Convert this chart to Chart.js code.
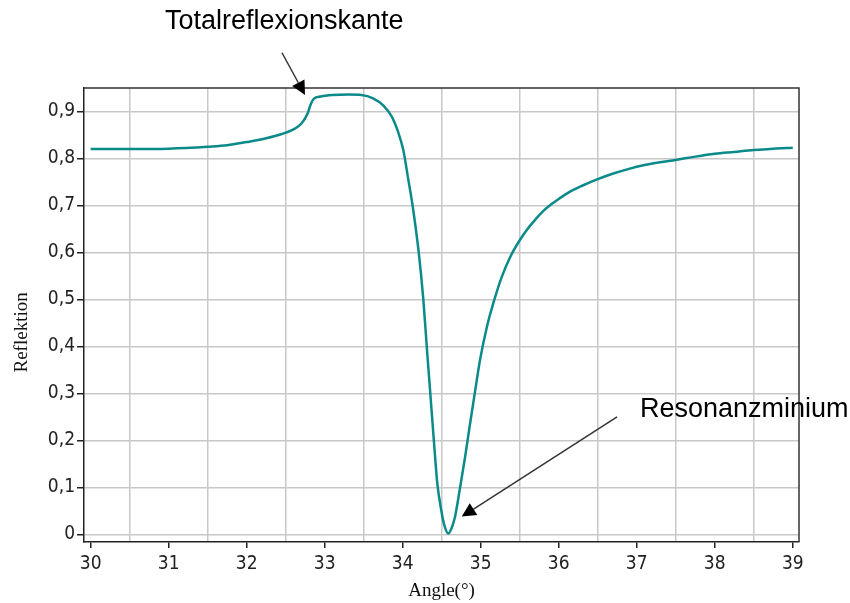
<!DOCTYPE html>
<html>
<head>
<meta charset="utf-8">
<style>
  html, body { margin: 0; padding: 0; background: #ffffff; }
  #wrap { width: 850px; height: 603px; position: relative; }
</style>
<script src="https://cdn.jsdelivr.net/npm/chart.js@4.4.1/dist/chart.umd.min.js"></script>
</head>
<body>
<div id="wrap"><canvas id="c" width="850" height="603"></canvas></div>
<script>
// SPR reflectivity curve: reflection vs. angle of incidence
const angles = [
  30.0, 30.5, 31.0, 31.5, 31.75, 32.0, 32.25, 32.45, 32.6, 32.7,
  32.78, 32.82, 32.86, 32.95, 33.1, 33.3, 33.47, 33.62, 33.75, 33.86,
  33.94, 34.008, 34.065, 34.126, 34.207, 34.265, 34.312, 34.354, 34.399, 34.444,
  34.494, 34.530, 34.585, 34.63, 34.67, 34.73, 34.80, 34.86, 34.93, 34.99,
  35.08, 35.16, 35.27, 35.38, 35.50, 35.6, 35.7, 35.8, 35.9, 36.0,
  36.14, 36.3, 36.5, 36.7, 36.9, 37.1, 37.3, 37.5, 37.75, 38.0,
  38.25, 38.5, 38.75, 39.0
];
const reflection = [
  0.820, 0.820, 0.821, 0.825, 0.828, 0.835, 0.843, 0.852, 0.862, 0.874,
  0.895, 0.915, 0.927, 0.932, 0.935, 0.936, 0.935, 0.928, 0.913, 0.889,
  0.857, 0.818, 0.762, 0.701, 0.598, 0.499, 0.392, 0.300, 0.201, 0.108,
  0.052, 0.022, 0.002, 0.015, 0.037, 0.094, 0.165, 0.232, 0.307, 0.370,
  0.442, 0.491, 0.548, 0.591, 0.626, 0.650, 0.670, 0.688, 0.702, 0.714,
  0.729, 0.742, 0.756, 0.768, 0.778, 0.786, 0.792, 0.797, 0.804, 0.810,
  0.814, 0.818, 0.821, 0.823
];

// Axis ticks: labelled integer angles, grid lines between them
const xTickValues = [30, 31, 32, 33, 34, 35, 36, 37, 38, 39];
const xGridValues = [30.5, 31.5, 32.5, 33.5, 34.5, 35.5, 36.5, 37.5, 38.5];
const yTickValues = [0, 0.1, 0.2, 0.3, 0.4, 0.5, 0.6, 0.7, 0.8, 0.9];
const yTickLabels = ['0', '0,1', '0,2', '0,3', '0,4', '0,5', '0,6', '0,7', '0,8', '0,9'];
const xTitle = 'Angle(°)';
const yTitle = 'Reflektion';

// Callouts: text and arrow, anchored in data coordinates
const callouts = [
  { text: 'Totalreflexionskante', textAt: [30.953, 1.0755], from: [32.453, 1.025], to: [32.748, 0.935] },
  { text: 'Resonanzminium',       textAt: [37.042, 0.25],   from: [36.748, 0.25],  to: [34.757, 0.038] }
];

const tickFont = { family: "'Liberation Sans Narrow', 'DejaVu Sans Condensed', 'Liberation Sans', sans-serif", size: 19 };
const titleFont = { family: "'Liberation Serif', 'DejaVu Serif', serif", size: 19 };
const isMajor = v => xTickValues.includes(v);

const frameAndCallouts = {
  id: 'frameAndCallouts',
  afterDraw(chart) {
    const { ctx, chartArea: a, scales: { x, y } } = chart;
    ctx.save();
    // top and right frame
    ctx.strokeStyle = '#333333';
    ctx.lineWidth = 1.5;
    ctx.beginPath();
    ctx.moveTo(a.left, a.top);
    ctx.lineTo(a.right, a.top);
    ctx.lineTo(a.right, a.bottom);
    ctx.stroke();

    // vertical axis title
    ctx.save();
    ctx.translate(22, y.getPixelForValue(0.43));
    ctx.rotate(-Math.PI / 2);
    ctx.font = `${titleFont.size}px ${titleFont.family}`;
    ctx.fillStyle = '#111111';
    ctx.textAlign = 'center';
    ctx.textBaseline = 'middle';
    ctx.fillText(yTitle, 0, 0);
    ctx.restore();

    callouts.forEach(c => {
      const x0 = x.getPixelForValue(c.from[0]), y0 = y.getPixelForValue(c.from[1]);
      const x1 = x.getPixelForValue(c.to[0]),   y1 = y.getPixelForValue(c.to[1]);
      const ang = Math.atan2(y1 - y0, x1 - x0);
      const headLen = 14, headW = 7;
      const bx = x1 - headLen * Math.cos(ang), by = y1 - headLen * Math.sin(ang);
      ctx.strokeStyle = '#333333';
      ctx.lineWidth = 1.5;
      ctx.beginPath();
      ctx.moveTo(x0, y0);
      ctx.lineTo(bx, by);
      ctx.stroke();
      ctx.fillStyle = '#000000';
      ctx.beginPath();
      ctx.moveTo(x1, y1);
      ctx.lineTo(bx + headW * Math.sin(ang), by - headW * Math.cos(ang));
      ctx.lineTo(bx - headW * Math.sin(ang), by + headW * Math.cos(ang));
      ctx.closePath();
      ctx.fill();

      ctx.fillStyle = '#000000';
      ctx.font = "27px 'Liberation Sans', Arial, sans-serif";
      ctx.textAlign = 'left';
      ctx.textBaseline = 'alphabetic';
      ctx.fillText(c.text, x.getPixelForValue(c.textAt[0]), y.getPixelForValue(c.textAt[1]));
    });
    ctx.restore();
  }
};

new Chart(document.getElementById('c'), {
  type: 'line',
  data: {
    datasets: [{
      label: yTitle,
      data: angles.map((a, i) => ({ x: a, y: reflection[i] })),
      borderColor: '#0b8a8a',
      borderWidth: 2.5,
      pointRadius: 0,
      fill: false,
      cubicInterpolationMode: 'monotone'
    }]
  },
  options: {
    responsive: false,
    animation: false,
    events: [],
    layout: { padding: { top: 88, right: 51, left: 0, bottom: 0 } },
    plugins: { legend: { display: false }, tooltip: { enabled: false } },
    scales: {
      x: {
        type: 'linear',
        min: 29.915,
        max: 39.08,
        afterBuildTicks: s => { s.ticks = [...xTickValues, ...xGridValues].sort((p, q) => p - q).map(v => ({ value: v })); },
        afterFit: s => { s.height = 61; },
        ticks: {
          autoSkip: false,
          maxRotation: 0,
          color: '#222222',
          font: tickFont,
          padding: 5,
          callback: v => isMajor(v) ? String(v) : ''
        },
        grid: {
          color: c => isMajor(c.tick.value) ? 'rgba(0,0,0,0)' : '#c8c8c8',
          tickColor: c => isMajor(c.tick.value) ? '#222222' : 'rgba(0,0,0,0)',
          lineWidth: 1.5,
          tickWidth: 1.5,
          tickLength: 6
        },
        border: { display: true, color: '#222222', width: 1.5 },
        title: { display: true, text: xTitle, color: '#111111', font: titleFont, padding: { top: 0, bottom: 1 } }
      },
      y: {
        type: 'linear',
        min: -0.016,
        max: 0.95,
        afterBuildTicks: s => { s.ticks = yTickValues.map(v => ({ value: v })); },
        afterFit: s => { s.width = 84; },
        ticks: {
          color: '#222222',
          font: tickFont,
          padding: 2,
          callback: v => yTickLabels[yTickValues.indexOf(v)]
        },
        grid: {
          color: '#c8c8c8',
          tickColor: '#222222',
          lineWidth: 1.5,
          tickWidth: 1.5,
          tickLength: 7
        },
        border: { display: true, color: '#222222', width: 1.5 }
      }
    }
  },
  plugins: [frameAndCallouts]
});
</script>
</body>
</html>
